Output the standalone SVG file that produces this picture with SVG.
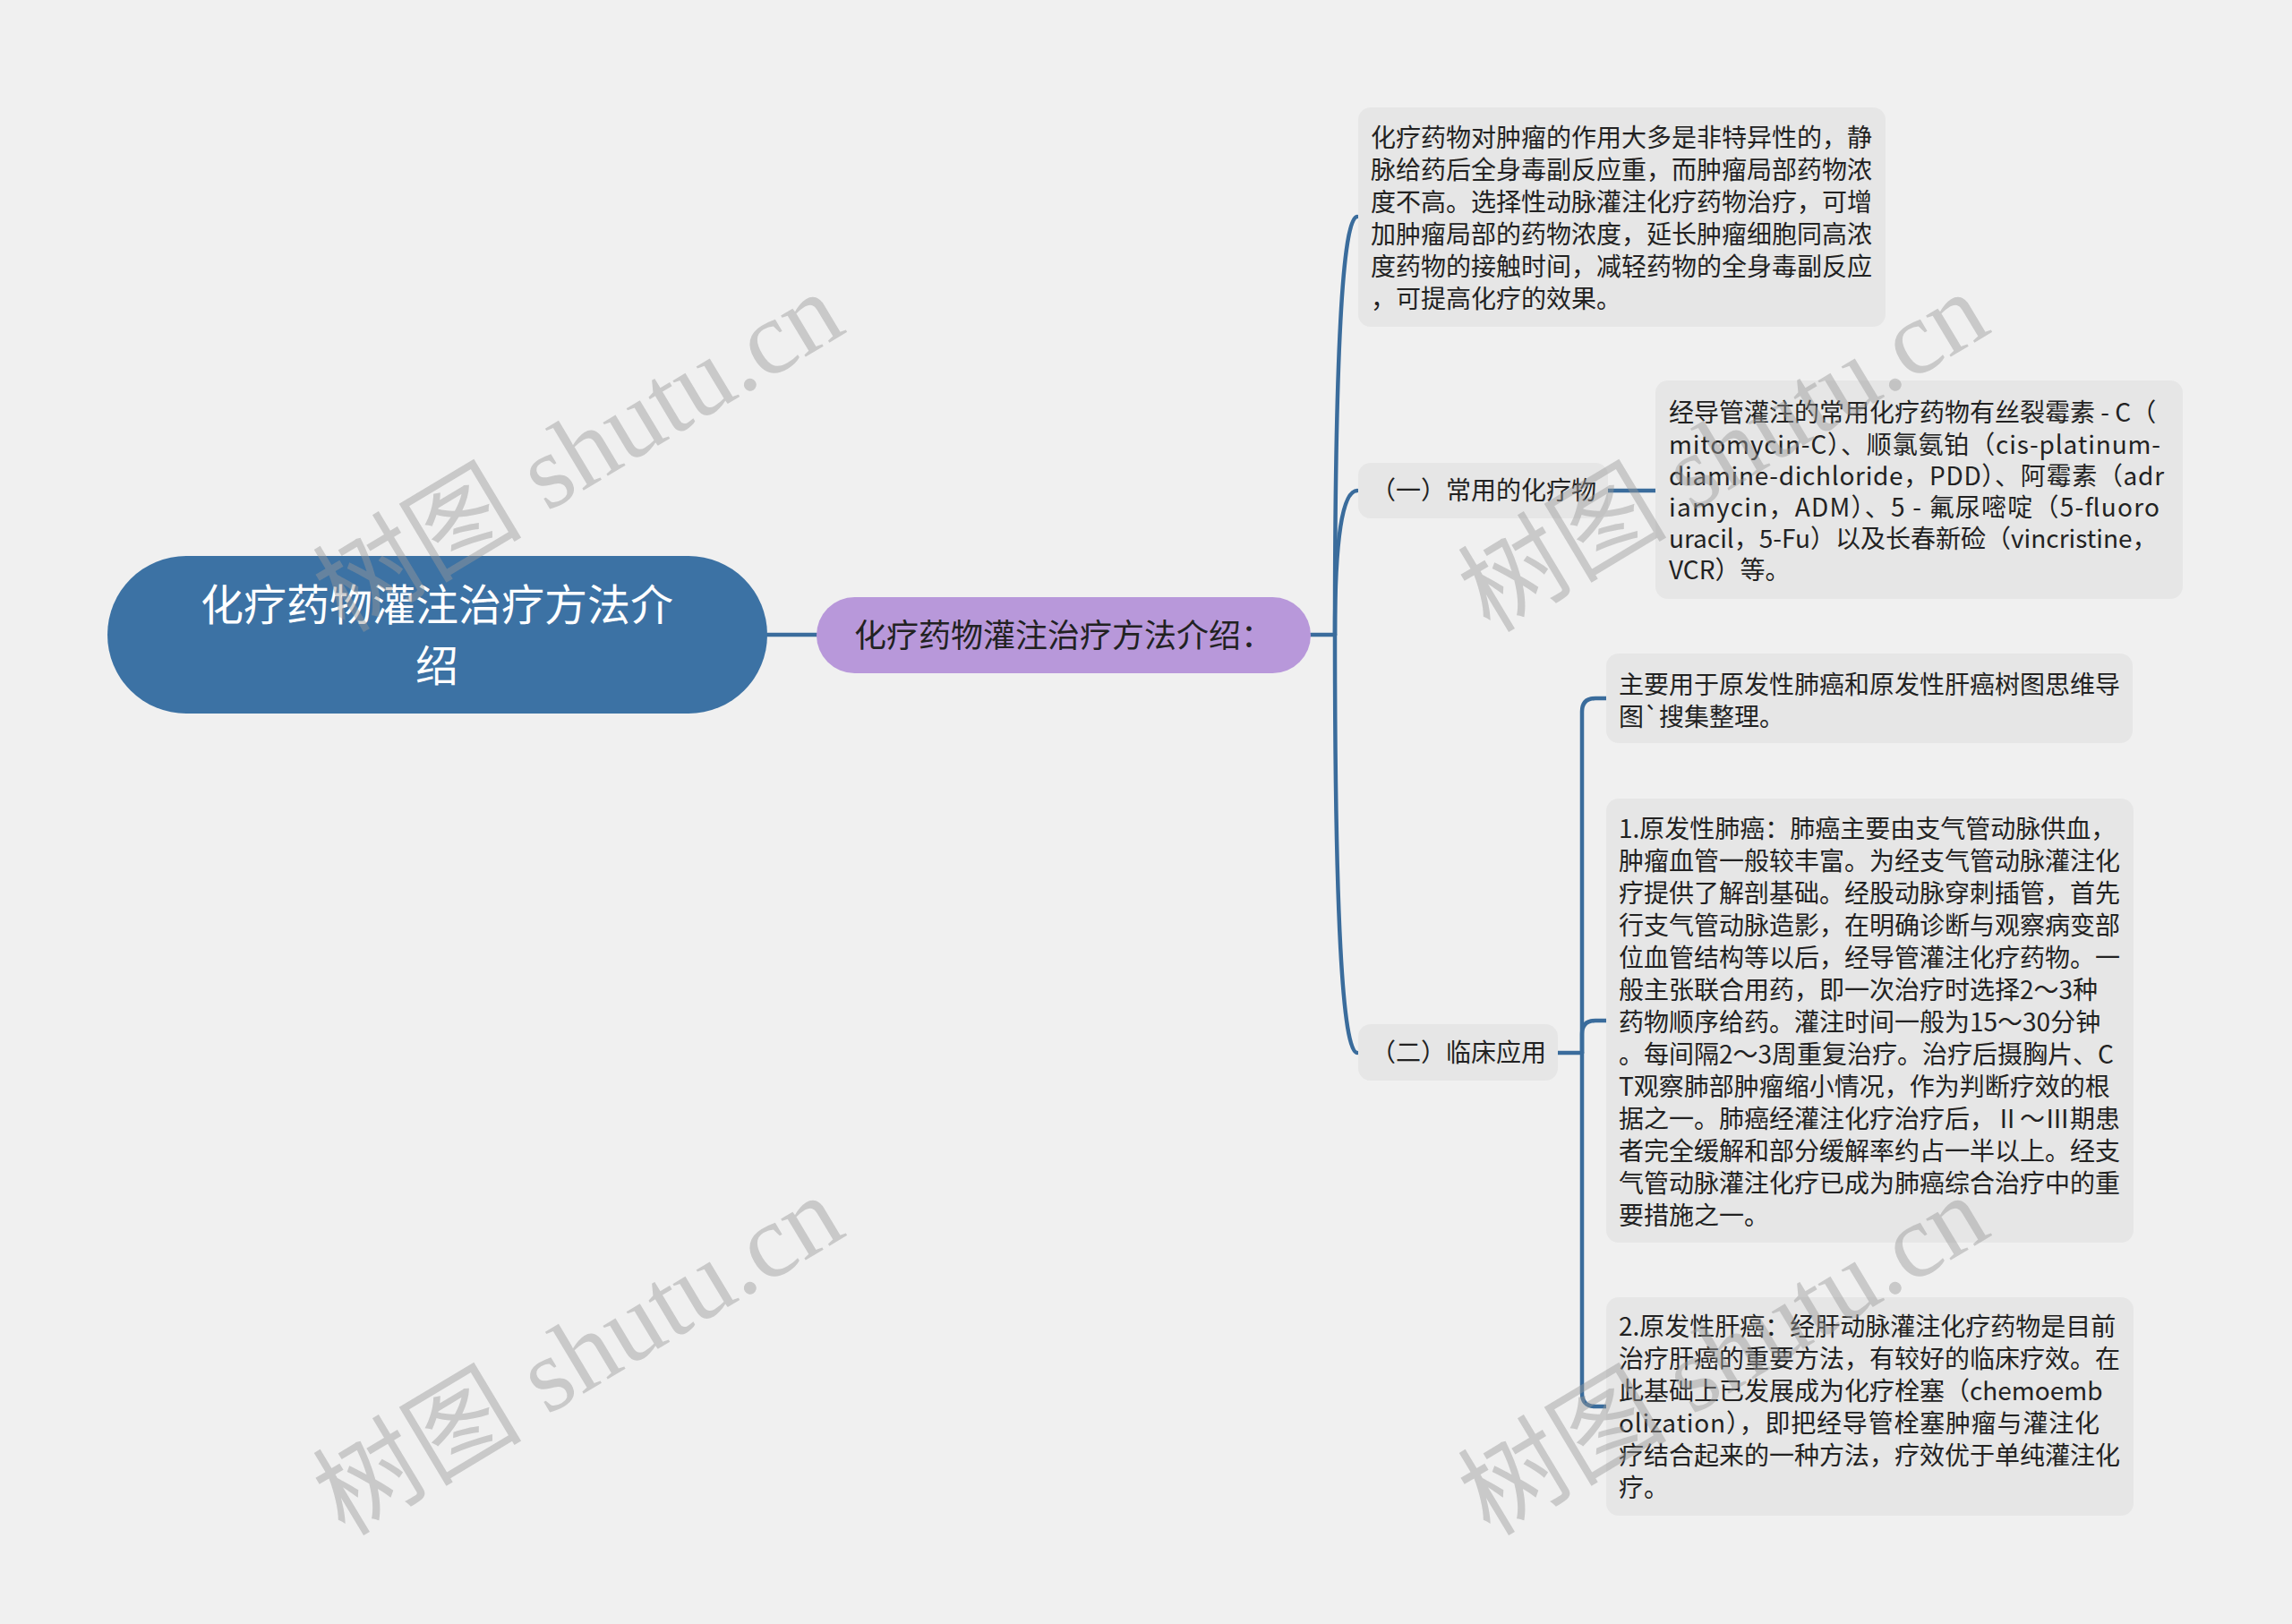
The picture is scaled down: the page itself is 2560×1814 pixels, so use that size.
<svg xmlns="http://www.w3.org/2000/svg" width="2560" height="1814" viewBox="0 0 2560 1814">
<style>
.bg{fill:#f0f0f0}
.root{fill:#3c72a4}
.rootText{fill:#ffffff;font-family:"Noto Sans CJK SC","Noto Sans",sans-serif;font-size:48px}
.sec{fill:#b898da}
.secText{fill:#222222;font-family:"Noto Sans CJK SC","Noto Sans",sans-serif;font-size:36px}
.box{fill:#e6e6e6}
.t{fill:#222222;font-family:"Noto Sans CJK SC","Noto Sans",sans-serif;font-size:28px}
.conn{fill:none;stroke:#3a6c9c;stroke-width:4.5;stroke-linecap:round}
.wm{fill:#9a9a9a;fill-opacity:0.45;font-family:"Liberation Serif","Noto Sans CJK SC",serif;font-size:117px}
</style>
<rect class="bg" x="0" y="0" width="2560" height="1814"/>
<g id="connectors">
<path class="conn" d="M857 709 L912 709"/>
<path class="conn" d="M1464 709 L1491 709"/>
<path class="conn" d="M1491 709 Q1491 242 1516 242"/>
<path class="conn" d="M1491 709 Q1491 548 1516 548"/>
<path class="conn" d="M1491 709 Q1491 1176 1516 1176"/>
<path class="conn" d="M1796 548 L1849 548"/>
<path class="conn" d="M1740 1176 L1767 1176"/>
<path class="conn" d="M1767 1176 L1767 795 Q1767 780 1782 780 L1794 780"/>
<path class="conn" d="M1767 1176 L1767 1155 Q1767 1140 1782 1140 L1794 1140"/>
<path class="conn" d="M1767 1176 L1767 1556 Q1767 1571 1782 1571 L1794 1571"/>
</g>
<g id="root">
<rect class="root" x="120" y="621" width="737" height="176" rx="88" ry="88"/>
<text class="rootText" x="488" y="672" text-anchor="middle" dominant-baseline="central">化疗药物灌注治疗方法介</text>
<text class="rootText" x="488" y="740" text-anchor="middle" dominant-baseline="central">绍</text>
</g>
<g id="main">
<rect class="sec" x="912" y="667" width="552" height="85" rx="42.5" ry="42.5"/>
<text class="secText" x="1188" y="707" text-anchor="middle" dominant-baseline="central">化疗药物灌注治疗方法介绍：</text>
</g>
<g id="intro">
<rect class="box" x="1517" y="120" width="589" height="245" rx="14" ry="14"/>
<text class="t" dominant-baseline="central">
<tspan x="1531" y="152">化疗药物对肿瘤的作用大多是非特异性的，静</tspan>
<tspan x="1531" y="188">脉给药后全身毒副反应重，而肿瘤局部药物浓</tspan>
<tspan x="1531" y="224">度不高。选择性动脉灌注化疗药物治疗，可增</tspan>
<tspan x="1531" y="260">加肿瘤局部的药物浓度，延长肿瘤细胞同高浓</tspan>
<tspan x="1531" y="296">度药物的接触时间，减轻药物的全身毒副反应</tspan>
<tspan x="1531" y="332">，可提高化疗的效果。</tspan>
</text>
</g>
<g id="label1">
<rect class="box" x="1517" y="517" width="279" height="62" rx="14" ry="14"/>
<text class="t" x="1531" y="546" dominant-baseline="central">（一）常用的化疗物</text>
</g>
<g id="drugs">
<rect class="box" x="1849" y="425" width="589" height="244" rx="14" ry="14"/>
<text class="t" x="1864" y="459" dominant-baseline="central">经导管灌注的常用化疗药物有丝裂霉素 - C（</text>
<text class="t" x="1864" y="495" dominant-baseline="central" textLength="549" lengthAdjust="spacing">mitomycin-C）、顺氯氨铂（cis-platinum-</text>
<text class="t" x="1864" y="530" dominant-baseline="central" textLength="553" lengthAdjust="spacing">diamine-dichloride，PDD）、阿霉素（adr</text>
<text class="t" x="1864" y="565" dominant-baseline="central" textLength="548" lengthAdjust="spacing">iamycin，ADM）、5 - 氟尿嘧啶（5-fluoro</text>
<text class="t" x="1864" y="600" dominant-baseline="central">uracil，5-Fu）以及长春新硷（vincristine，</text>
<text class="t" x="1864" y="635" dominant-baseline="central">VCR）等。</text>
</g>
<g id="label2">
<rect class="box" x="1517" y="1144" width="223" height="63" rx="14" ry="14"/>
<text class="t" x="1531" y="1174" dominant-baseline="central">（二）临床应用</text>
</g>
<g id="scope">
<rect class="box" x="1794" y="730" width="588" height="100" rx="14" ry="14"/>
<text class="t" dominant-baseline="central">
<tspan x="1808" y="763">主要用于原发性肺癌和原发性肝癌树图思维导</tspan>
<tspan x="1808" y="799">图`搜集整理。</tspan>
</text>
</g>
<g id="lung">
<rect class="box" x="1794" y="892" width="589" height="496" rx="14" ry="14"/>
<text class="t" dominant-baseline="central">
<tspan x="1808" y="924">1.原发性肺癌：肺癌主要由支气管动脉供血，</tspan>
<tspan x="1808" y="960">肿瘤血管一般较丰富。为经支气管动脉灌注化</tspan>
<tspan x="1808" y="996">疗提供了解剖基础。经股动脉穿刺插管，首先</tspan>
<tspan x="1808" y="1032">行支气管动脉造影，在明确诊断与观察病变部</tspan>
<tspan x="1808" y="1068">位血管结构等以后，经导管灌注化疗药物。一</tspan>
<tspan x="1808" y="1104">般主张联合用药，即一次治疗时选择2～3种</tspan>
<tspan x="1808" y="1140">药物顺序给药。灌注时间一般为15～30分钟</tspan>
<tspan x="1808" y="1176">。每间隔2～3周重复治疗。治疗后摄胸片、C</tspan>
<tspan x="1808" y="1212">T观察肺部肿瘤缩小情况，作为判断疗效的根</tspan>
<tspan x="1808" y="1248">据之一。肺癌经灌注化疗治疗后，Ⅱ～Ⅲ期患</tspan>
<tspan x="1808" y="1284">者完全缓解和部分缓解率约占一半以上。经支</tspan>
<tspan x="1808" y="1320">气管动脉灌注化疗已成为肺癌综合治疗中的重</tspan>
<tspan x="1808" y="1356">要措施之一。</tspan>
</text>
</g>
<g id="liver">
<rect class="box" x="1794" y="1449" width="589" height="244" rx="14" ry="14"/>
<text class="t" x="1808" y="1480" dominant-baseline="central">2.原发性肝癌：经肝动脉灌注化疗药物是目前</text>
<text class="t" x="1808" y="1516" dominant-baseline="central">治疗肝癌的重要方法，有较好的临床疗效。在</text>
<text class="t" x="1808" y="1552" dominant-baseline="central">此基础上已发展成为化疗栓塞（chemoemb</text>
<text class="t" x="1808" y="1588" dominant-baseline="central" textLength="537" lengthAdjust="spacing">olization），即把经导管栓塞肿瘤与灌注化</text>
<text class="t" x="1808" y="1624" dominant-baseline="central">疗结合起来的一种方法，疗效优于单纯灌注化</text>
<text class="t" x="1808" y="1660" dominant-baseline="central">疗。</text>
</g>
<g id="watermarks">
<text class="wm" x="0" y="0" text-anchor="middle" dominant-baseline="central" transform="translate(646,505) rotate(-31)">树图 shutu.cn</text>
<text class="wm" x="0" y="0" text-anchor="middle" dominant-baseline="central" transform="translate(646,1514) rotate(-31)">树图 shutu.cn</text>
<text class="wm" x="0" y="0" text-anchor="middle" dominant-baseline="central" transform="translate(1925,505) rotate(-31)">树图 shutu.cn</text>
<text class="wm" x="0" y="0" text-anchor="middle" dominant-baseline="central" transform="translate(1925,1514) rotate(-31)">树图 shutu.cn</text>
</g>
</svg>
